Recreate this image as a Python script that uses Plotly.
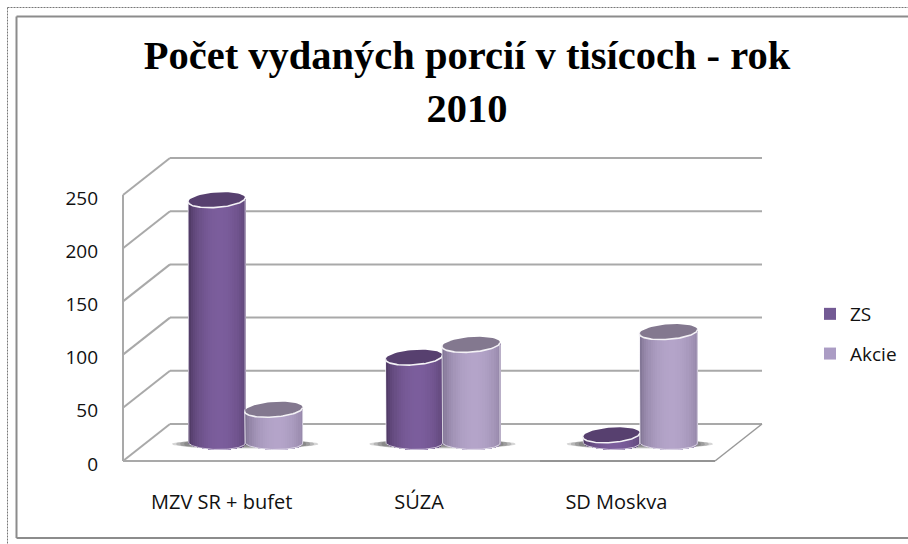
import math
import plotly.graph_objects as go

# ---- data ----
categories = ["MZV SR + bufet", "SÚZA", "SD Moskva"]
zs_values = [228, 80, 7]
akcie_values = [31, 92, 104]
y_ticks = [0, 50, 100, 150, 200, 250]
title_text = "<b>Počet vydaných porcií v tisícoch - rok<br>2010</b>"

# ---- geometry (pixels in the 908x544 page) ----
W, H = 908, 544
FX0, FX1, FY0, FY1 = 123, 715, 461, 195   # front plane
DX, DY = 47, 37                            # depth offset
PX_PER_UNIT = (FY0 - FY1) / 250
CAT_PX = (FX1 - FX0) / 3
GRID = "#a9a9a9"
BELOW = 20  # axis units kept below zero so the rounded cylinder bases are not clipped


def xdom(shift):
    return [(FX0 + shift) / W, (FX1 + shift) / W]


def ydom(shift, below=0):
    return [(H - FY0 + shift - below * PX_PER_UNIT) / H, (H - FY1 + shift) / H]


def hexmix(a, b, t):
    ca = [int(a[i:i + 2], 16) for i in (1, 3, 5)]
    cb = [int(b[i:i + 2], 16) for i in (1, 3, 5)]
    return "#" + "".join(f"{round(x + (y - x) * t):02x}" for x, y in zip(ca, cb))


def strips(values, offset_px, width_px, dark, light, ax, ay):
    n = 26
    rx = width_px / 2
    ry = 7.0
    tilt = 0.06
    xs, lens, bases, colors = [], [], [], []
    for i, v in enumerate(values):
        c = i + 0.5 + offset_px / CAT_PX
        for k in range(n):
            t = (k + 0.5) / n
            dx = (t - 0.5) * width_px
            arc = ry * math.sqrt(1 - (dx / rx) ** 2)
            base = (-arc + tilt * dx * -0.3) / PX_PER_UNIT
            top = v + tilt * dx / PX_PER_UNIT
            xs.append(c + dx / CAT_PX)
            bases.append(base)
            lens.append(top - base)
            f = math.sin(math.pi * min(1, t / 1.1)) ** 0.55
            colors.append(hexmix(dark, light, f))
    return go.Bar(x=xs, y=lens, base=bases, width=(width_px / n + 0.6) / CAT_PX,
                  marker=dict(color=colors, line=dict(width=0)), xaxis=ax, yaxis=ay,
                  showlegend=False, hoverinfo="skip")


def ellipse_pts(c, v, rx, ry, tilt, a0=0.0, a1=2 * math.pi, n=60, power=1.0):
    xs, ys = [], []
    for j in range(n + 1):
        a = a0 + (a1 - a0) * j / n
        ca, sa = math.cos(a), math.sin(a)
        px = rx * math.copysign(abs(ca) ** power, ca)
        py = ry * math.copysign(abs(sa) ** power, sa) + tilt * rx * ca
        xs.append(c + px / CAT_PX)
        ys.append(v + py / PX_PER_UNIT)
    return xs, ys


def tops(values, offset_px, width_px, color, ax, ay):
    out = []
    for i, v in enumerate(values):
        c = i + 0.5 + offset_px / CAT_PX
        x, y = ellipse_pts(c, v, width_px / 2, 7.5, 0.07)
        out.append(go.Scatter(x=x, y=y, mode="lines", fill="toself", fillcolor=color,
                              line=dict(width=0), xaxis=ax, yaxis=ay, showlegend=False,
                              cliponaxis=False, hoverinfo="skip"))
        x, y = ellipse_pts(c, v, width_px / 2, 7.5, 0.07, math.pi, 2 * math.pi)
        out.append(go.Scatter(x=x, y=y, mode="lines", line=dict(color="#f4f2f6", width=1.6),
                              xaxis=ax, yaxis=ay, showlegend=False, cliponaxis=False,
                              hoverinfo="skip"))
        # pale outline of sides and bottom
        bx, by = ellipse_pts(c, 0, width_px / 2, 7.0, -0.02, math.pi, 2 * math.pi)
        ox = [c - width_px / 2 / CAT_PX] + bx + [c + width_px / 2 / CAT_PX]
        oy = [v] + by + [v]
        out.append(go.Scatter(x=ox, y=oy, mode="lines",
                              line=dict(color="rgba(240,238,244,0.75)", width=1),
                              xaxis=ax, yaxis=ay, showlegend=False, cliponaxis=False,
                              hoverinfo="skip"))
    return out


def shadows(n_groups, ax, ay):
    out = []
    for i in range(n_groups):
        c = i + 0.5
        for extra, ry in ((73, 2.5), (69, 3.3), (65, 4.0), (61, 4.6)):
            x, y = ellipse_pts(c, -1.4, extra, ry, 0, power=0.6)
            out.append(go.Scatter(x=x, y=y, mode="lines", fill="toself",
                                  fillcolor="rgba(70,70,70,0.22)", line=dict(width=0),
                                  xaxis=ax, yaxis=ay, showlegend=False, cliponaxis=False,
                                  hoverinfo="skip"))
    return out


traces = []
traces += shadows(len(categories), "x2", "y2")
traces.append(strips(zs_values, -28.5, 57, "#463259", "#7b5d9c", "x3", "y3"))
traces += tops(zs_values, -28.5, 57, "#57406f", "x3", "y3")
traces.append(strips(akcie_values, 28.5, 58, "#776b8a", "#b4a4c9", "x4", "y4"))
traces += tops(akcie_values, 28.5, 58, "#83788f", "x4", "y4")
# front plane: axes and legend entries
traces.append(go.Scatter(x=[None], y=[None], mode="markers", name="ZS", legendgroup="a",
                         marker=dict(symbol="square", size=12, color="#735a94"),
                         xaxis="x5", yaxis="y5"))
traces.append(go.Scatter(x=[None], y=[None], mode="markers", name="Akcie", legendgroup="b",
                         marker=dict(symbol="square", size=12, color="#ab9cc4"),
                         xaxis="x5", yaxis="y5"))

fig = go.Figure(traces)

FONT = "Open Sans"
TXT = dict(family=FONT, size=19, color="#111111")
hidden = dict(visible=False, fixedrange=True, automargin=False)
fig.update_layout(
    width=W, height=H, autosize=False,
    margin=dict(l=0, r=0, t=0, b=0, autoexpand=False),
    paper_bgcolor="white", plot_bgcolor="rgba(0,0,0,0)",
    barmode="overlay", bargap=0,
    title=dict(text=title_text, x=467 / W, xanchor="center", y=1 - 69 / H, yanchor="top",
               font=dict(family="Liberation Serif", size=40.5, color="black")),
    legend=dict(x=810 / W, xanchor="left", y=1 - 295 / H, yanchor="top",
                tracegroupgap=12, font=dict(family=FONT, size=19, color="#111111"),
                bgcolor="rgba(0,0,0,0)", itemclick=False, itemdoubleclick=False),
    xaxis2=dict(domain=xdom(DX / 2), range=[0, 3], anchor="y2", **hidden),
    yaxis2=dict(domain=ydom(DY / 2, BELOW), range=[-BELOW, 250], anchor="x2", **hidden),
    xaxis3=dict(domain=xdom(DX / 2), range=[0, 3], anchor="y3", **hidden),
    yaxis3=dict(domain=ydom(DY / 2, BELOW), range=[-BELOW, 250], anchor="x3", **hidden),
    xaxis4=dict(domain=xdom(DX / 2), range=[0, 3], anchor="y4", **hidden),
    yaxis4=dict(domain=ydom(DY / 2, BELOW), range=[-BELOW, 250], anchor="x4", **hidden),
    xaxis5=dict(domain=xdom(0), range=[0, 3], anchor="y5", tickmode="array",
                tickvals=[i + 0.5 for i in range(len(categories))], ticktext=categories,
                ticks="", showgrid=False, zeroline=False, showline=False, automargin=False,
                tickfont=dict(family=FONT, size=20, color="#111111"),
                ticklabelstandoff=24, fixedrange=True),
    yaxis5=dict(domain=ydom(-3), range=[0, 250], anchor="x5", tickmode="array", tickvals=y_ticks,
                ticks="", showgrid=False, zeroline=False, showline=False, automargin=False,
                tickfont=TXT, ticklabelstandoff=24, fixedrange=True),
)


def line(x0, y0, x1, y1, color, width, **kw):
    return dict(type="line", xref="paper", yref="paper", x0=x0 / W, x1=x1 / W,
                y0=1 - y0 / H, y1=1 - y1 / H, line=dict(color=color, width=width, **kw))


shapes = [
    line(7.5, 7.5, W, 7.5, "#777777", 1, dash="2px,1px"),
    line(7.5, 7.5, 7.5, H, "#777777", 1, dash="2px,1px"),
    line(16.5, 16.5, W, 16.5, "#8c8c8c", 2),
    line(16.5, 16.5, 16.5, 538, "#8c8c8c", 2),
    line(16.5, 538, W, 538, "#8c8c8c", 2),
    line(FX0, FY1, FX0, FY0, GRID, 2),
    line(FX0, FY0, FX1, FY0, GRID, 2),
    line(FX1 - 175, FY0, FX1, FY0, "#808080", 1),
]
for v in y_ticks:
    py = FY0 - v * PX_PER_UNIT
    shapes.append(line(FX0, py, FX0 + DX, py - DY, GRID, 2))
    shapes.append(line(FX0 + DX, py - DY, FX1 + DX, py - DY, GRID, 2))
shapes.append(line(FX1, FY0, FX1 + DX, FY0 - DY, "#999999", 1.5))
for s in shapes:
    s["layer"] = "below"
fig.update_layout(shapes=shapes)

fig.write_html("out.html", post_script="document.body.style.margin='0';",
               config=dict(displayModeBar=False))
